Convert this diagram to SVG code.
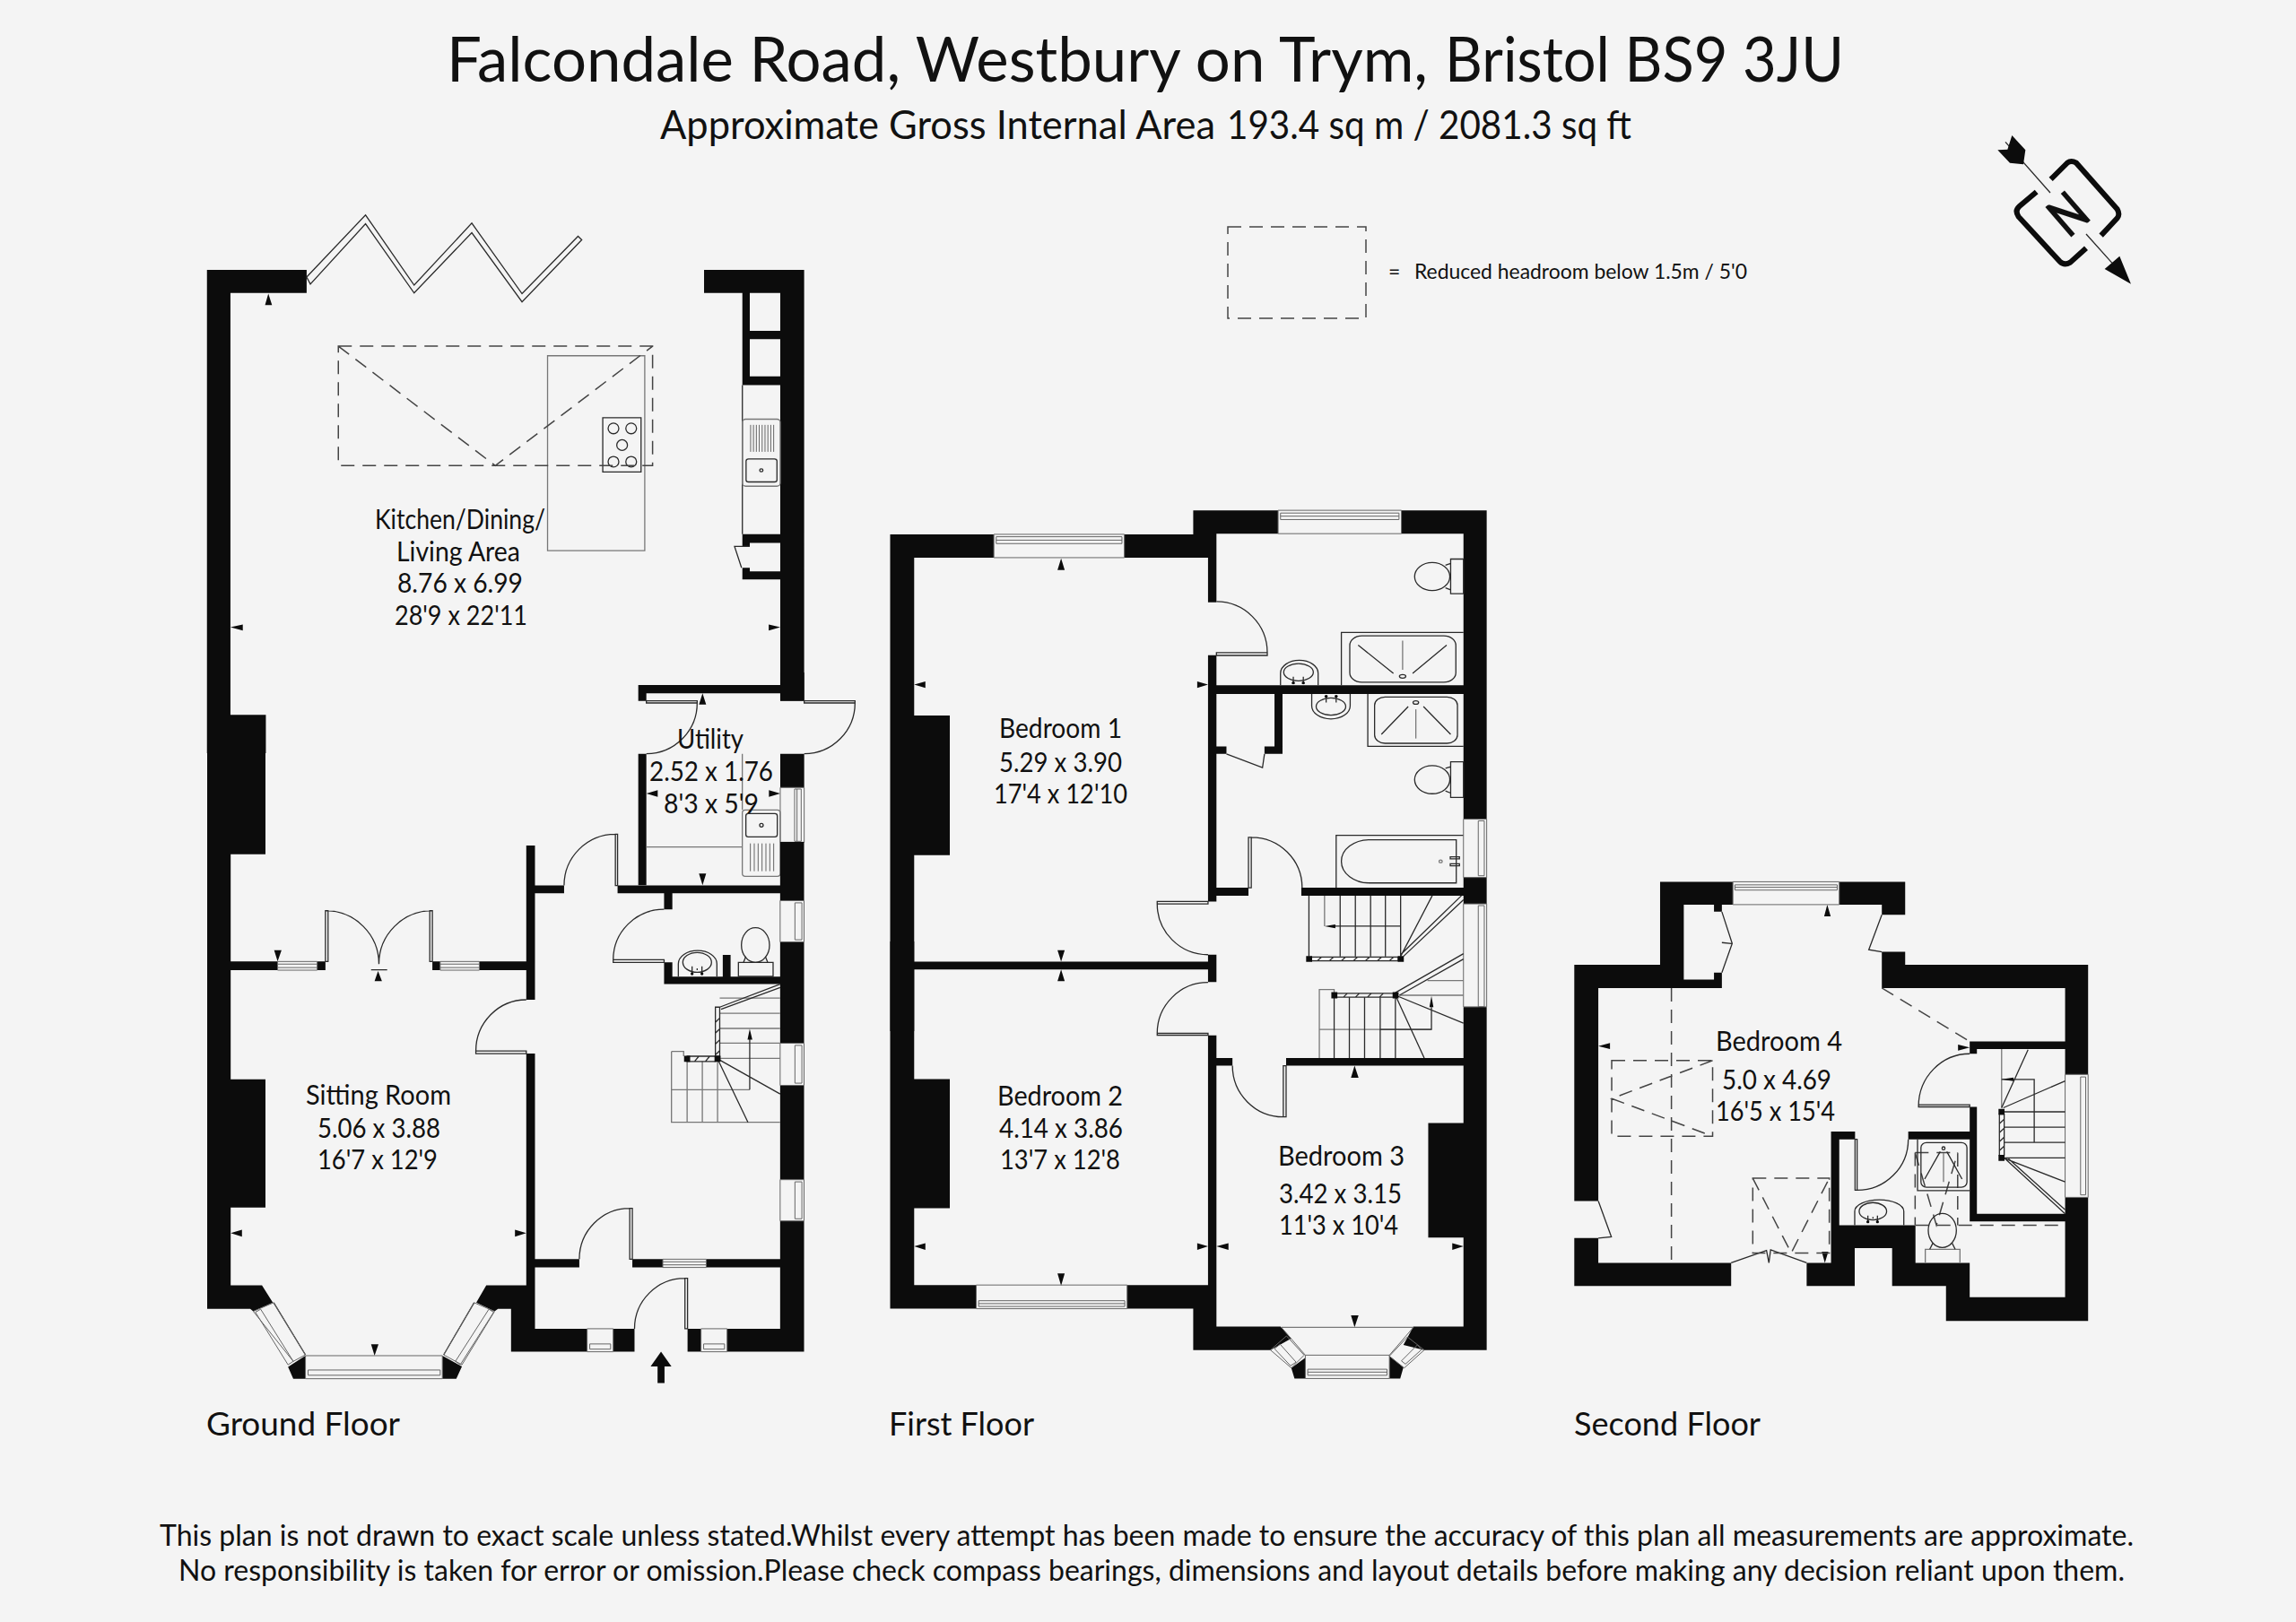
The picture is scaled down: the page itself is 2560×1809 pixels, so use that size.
<svg xmlns="http://www.w3.org/2000/svg" width="2560" height="1809" viewBox="0 0 2560 1809">
<style>
.w{fill:#0c0c0c}
.l{fill:none;stroke:#2a2a2a;stroke-width:1.3;vector-effect:non-scaling-stroke}
.g{fill:none;stroke:#777;stroke-width:1.3;vector-effect:non-scaling-stroke}
.n{fill:none;stroke:#666;stroke-width:1;vector-effect:non-scaling-stroke}
.d{fill:none;stroke:#444;stroke-width:1.5;stroke-dasharray:15 9;vector-effect:non-scaling-stroke}
text{font-family:Lato,"Liberation Sans",sans-serif;fill:#111;font-size:30px}
.t1{font-size:70px}.t2{font-size:45px}.t3{font-size:33px}.t4{font-size:37px}.t5{font-size:23px}
</style>
<rect width="2560" height="1809" fill="#f4f4f4"/>

<g id="ground-floor">
<g id="ground-rear" transform="translate(200 220) scale(.4592 .3954)">
<path class="w" d="M67 205H309V270H124V1460H210V1568H67ZM1274 205H1517V1420H1459V270H1274ZM1367 270H1385V505H1459V530H1367ZM1385 377H1459V400H1385ZM1367 950H1459V975H1385V985H1367ZM1367 1045H1385V1055H1459V1078H1367Z"/>
<path class="l" d="M309 225L452 50L570 248L710 73L832 272L968 110L977 120L832 295L710 100L570 270L452 75L318 245Z"/>
<path class="l" d="M1367 530V950M1385 985H1348L1365 1045"/>
<rect class="g" x="1367" y="626" width="92" height="189" rx="8"/>
<rect class="l" x="1376" y="738" width="75" height="65" rx="6"/>
<ellipse class="l" cx="1413" cy="770" rx="4" ry="4"/>
<path class="n" d="M1387 642V718M1394 642V718M1401 642V718M1408 642V718M1415 642V718M1422 642V718M1429 642V718M1436 642V718M1443 642V718"/>
<rect class="g" x="894" y="447" width="236" height="550"/>
<rect class="l" x="1028" y="622" width="93" height="153"/>
<ellipse class="l" cx="1054" cy="652" rx="13" ry="15"/><ellipse class="l" cx="1097" cy="652" rx="13" ry="15"/><ellipse class="l" cx="1075" cy="699" rx="13" ry="15"/><ellipse class="l" cx="1054" cy="746" rx="13" ry="15"/><ellipse class="l" cx="1097" cy="746" rx="13" ry="15"/>
<path class="d" d="M386 420H1149V757H386ZM386 420L767 757L1149 420"/>
<path class="w" d="M216 272L208 304H225ZM124 1213L154 1205V1222ZM1459 1213L1431 1205V1222Z"/>
</g>
<g id="utility" transform="translate(700 750) scale(.3333)">
<path class="w" d="M35 42H510V0H590V95H510V70H62V95H35ZM35 272H62V712H35ZM510 272H590V385H510ZM250 70L238 107H262ZM62 405L100 394V416ZM510 405L472 394V416ZM250 712L238 673H262Z"/>
<path class="l" d="M62 95H232V102H62ZM232 102A170 170 0 0 1 62 272M590 95H760V102H590ZM760 102A170 170 0 0 1 590 272"/>
<path class="n" d="M510 385H590V568H510ZM558 390H580V565H558ZM566 390V565"/>
<path class="g" d="M383 272V460M62 584H383"/>
<rect class="g" x="383" y="460" width="127" height="222" rx="10"/>
<rect class="l" x="395" y="472" width="105" height="78" rx="8"/>
<circle class="l" cx="447" cy="511" r="6"/>
<path class="n" d="M410 572V665M423 572V665M436 572V665M449 572V665M462 572V665M475 572V665M488 572V665"/>
</g>
<g id="ground-front" transform="translate(200 830) scale(.4847)">
<path class="w" d="M64 0H198V253H118V771H198V1066H118V1245H190L215 1285L170 1305L163 1299H64ZM250 1433L290 1407V1460H262ZM605 1407L650 1432L637 1460H605ZM683 1285L706 1245H798V712H818V1345H938V1398H763V1299H733L725 1305ZM798 233H818V325H885V343H818V588H798ZM998 1345H1047V1398H998ZM1169 1345H1200V1398H1169ZM1260 1345H1382V1097H1437V1398H1260ZM1008 325H1382V225H1437V360H1382V343H1134V380H1115V343H1008ZM1382 455H1437V688H1382V552H1134H1115V502H1134V535H1382ZM1382 785H1437V1002H1382ZM1250 485H1268V535H1250ZM118 500H226V520H118ZM317 500H336V520H317ZM582 500H600V520H582ZM690 500H798V520H690ZM818 1185H920V1204H818ZM1042 1185H1112V1204H1042ZM1212 1185H1382V1204H1212Z"/>
<path class="w" d="M226 500L218 474H235ZM118 1125L144 1117V1133ZM798 1125L772 1117V1133ZM449 1407L441 1381H458ZM457 522L449 545H466ZM1108 1398L1132 1432H1116V1470H1100V1432H1084Z"/>
<path class="l" d="M336 383H342V500H336ZM336 383A123 123 0 0 1 459 506M576 383H582V500H576ZM582 383A123 123 0 0 0 459 506M441 519H478"/>
<path class="l" d="M682 706H798V712H682ZM682 706A116 118 0 0 1 798 588M1003 207H1008V325H1003ZM1003 207A118 118 0 0 0 885 325M998 496H1115V502H998ZM998 496A117 116 0 0 1 1115 380M1036 1068H1042V1185H1036ZM1036 1068A116 117 0 0 0 920 1185M1163 1229H1169V1345H1163ZM1163 1229A116 116 0 0 0 1047 1345"/>
<path class="n" d="M1382 360H1437V455H1382ZM1416 365H1432V450H1416ZM1382 688H1437V785H1382ZM1416 693H1432V780H1416ZM1382 1002H1437V1097H1382ZM1416 1007H1432V1092H1416Z"/>
<path class="n" d="M938 1345H998V1398H938ZM944 1380H992V1392H944ZM1200 1345H1260V1398H1200ZM1206 1380H1254V1392H1206ZM290 1407H605V1460H290ZM296 1440H600V1452H296ZM1112 1185H1212V1204H1112ZM1112 1191H1212M1112 1198H1212M226 500H317V520H226ZM226 506H317M226 514H317M600 500H690V520H600ZM600 506H690M600 514H690"/>
<path class="l" d="M217 1285L290 1405M678 1285L608 1405"/>
<path class="n" d="M170 1305L217 1285L290 1405L262 1420ZM175 1307L187 1300L262 1420L250 1428ZM608 1405L678 1285L725 1305L650 1428ZM635 1420L712 1300L723 1307L646 1428Z"/>
<path class="g" d="M1243 584H1382M1243 619H1382M1243 654H1382M1243 688H1382M1243 723H1382M1132 707V870H1382M1160 718V707H1132M1168 730V870M1203 730V870M1238 730V870M1132 795H1312"/>
<path class="l" d="M1238 724L1382 805M1238 724L1308 870M1312 795V670M1243 605L1382 552M1246 610L1382 560M1233 605H1243V718H1233ZM1168 718H1233V730H1168ZM1233 640L1243 630M1233 665L1243 655M1233 690L1243 680M1233 715L1243 705M1185 730L1195 718M1210 730L1220 718"/>
<path class="w" d="M1161 717H1175V731H1161ZM1231 717H1245V731H1231ZM1312 655L1307 680H1318Z"/>
</g>
<g id="cloakroom" transform="translate(720 1010) scale(.3333)">
<ellipse class="l" cx="367" cy="132" rx="47" ry="58"/>
<path class="l" d="M310 190H426V237H310ZM335 170L327 190M400 170L408 190"/>
<path class="l" d="M109 237V195A64 44 0 0 1 238 195V237"/>
<ellipse class="l" cx="172" cy="190" rx="48" ry="33"/>
<path class="l" d="M155 203V228M188 203V228M172 210V216"/>
<circle class="w" cx="155" cy="228" r="5"/><circle class="w" cx="188" cy="228" r="5"/>
</g>
</g>

<g id="first-floor">
<g id="first-upper" transform="translate(980 550) scale(.4464 .3827)">
<path class="w" d="M28 120H287V188H88V648H177V1055H88V1365H822V1345H843V1425H822V1388H88V1568H28ZM613 120H785V50H997V118H843V318H822V188H613ZM1305 50H1518V950H1460V118H1305ZM822 472H843V560H1460V585H1008V760H963V738H988V585H843V738H868V760H843V1150H923V1173H843V1190H822ZM1055 1150H1460V1120H1518V1197H1460V1173H1055Z"/>
<path class="w" d="M455 190L446 224H464ZM88 558L116 549V568ZM822 558L795 549V568ZM455 1365L446 1332H464ZM455 1388L446 1422H464Z"/>
<path class="n" d="M287 120H613V188H287ZM293 127H607V147H293ZM293 137H607M997 50H1305V118H997ZM1003 58H1299V77H1003ZM1003 67H1299"/>
<path class="l" d="M868 760L958 800L963 760"/>
<path class="l" d="M843 465H970V473H843ZM843 316A127 149 0 0 1 970 465M923 1003H930V1150H923ZM930 1003A127 147 0 0 1 1057 1150M695 1190H822V1197H695ZM695 1197A127 148 0 0 0 822 1345"/>
<ellipse class="l" cx="1382" cy="243" rx="44" ry="41"/><path class="l" d="M1428 192H1460V293H1428ZM1415 210L1428 205M1415 276L1428 282"/>
<ellipse class="l" cx="1382" cy="835" rx="44" ry="41"/><path class="l" d="M1428 783H1460V887H1428ZM1415 802L1428 797M1415 868L1428 874"/>
<path class="l" d="M1155 560V406H1460"/><rect class="l" x="1176" y="416" width="265" height="135" rx="30" ry="28"/>
<path class="l" d="M1197 443L1285 525M1418 443L1333 525"/><path class="g" d="M1308 430V515"/><ellipse class="l" cx="1308" cy="534" rx="8" ry="5"/>
<path class="l" d="M1221 585V738H1460"/><rect class="l" x="1238" y="594" width="207" height="135" rx="26" ry="24"/>
<path class="l" d="M1322 622L1255 703M1360 622L1428 703"/><path class="g" d="M1341 630V715"/><ellipse class="l" cx="1341" cy="610" rx="7" ry="5"/>
<path class="l" d="M1003 560V525A47 38 0 0 1 1097 525V560"/><ellipse class="l" cx="1048" cy="522" rx="37" ry="25"/>
<path class="l" d="M1035 535V555M1060 535V555"/><circle class="w" cx="1035" cy="553" r="4"/><circle class="w" cx="1060" cy="553" r="4"/>
<path class="l" d="M1081 585V620A48 38 0 0 0 1177 620V585"/><ellipse class="l" cx="1129" cy="622" rx="37" ry="25"/>
<path class="l" d="M1117 590V610M1142 590V610"/><circle class="w" cx="1117" cy="592" r="4"/><circle class="w" cx="1142" cy="592" r="4"/>
<path class="l" d="M1142 1150V997H1460M1442 1010H1225A70 63 0 0 0 1225 1136H1442Z"/><circle class="g" cx="1403" cy="1073" r="4"/>
<path class="l" d="M1427 1060H1450V1066H1427ZM1427 1080H1450V1086H1427Z"/>
<path class="n" d="M1460 950H1518V1120H1460ZM1497 955H1512V1115H1497ZM1460 1197H1518V1497H1460ZM1497 1202H1512V1497H1497Z"/>
<path class="l" d="M1074 1173V1350M1152 1173V1350M1190 1173V1350M1228 1173V1350M1265 1173V1350M1303 1173V1350M1130 1262H1303M1303 1350L1382 1173M1303 1345L1455 1173M1310 1350L1460 1185"/>
<path class="g" d="M1113 1173V1262"/>
<path class="l" d="M1080 1352H1297V1363H1080ZM1095 1363L1105 1352M1125 1363L1135 1352M1155 1363L1165 1352M1185 1363L1195 1352M1215 1363L1225 1352M1245 1363L1255 1352M1275 1363L1285 1352"/>
<path class="w" d="M1067 1349H1082V1366H1067ZM1296 1349H1311V1366H1296ZM1113 1262L1140 1257V1268Z"/>
</g>
<g id="first-lower" transform="translate(980 1050) scale(.4464 .3571)">
<path class="w" d="M28 0H88V430H177V833H88V1073H243V1147H28ZM620 1073H822V293H843V364H883V388H843V1203H1003L1030 1240L978 1276H785V1147H620ZM1017 364H1460V205H1518V1276H1362L1310 1260L1335 1203H1460V925H1372V567H1460V388H1017ZM1030 1332L1065 1300V1365H1038ZM1275 1295L1310 1330L1302 1365H1275Z"/>
<path class="w" d="M1188 388L1179 426H1198ZM843 952L873 942V963ZM822 952L795 942V963ZM88 952L116 942V963ZM1460 952L1432 942V963ZM455 1075L446 1037H464ZM1188 1205L1179 1168H1198Z"/>
<path class="n" d="M243 1073H620V1147H243ZM249 1122H614V1140H249ZM249 1131H614M1065 1292H1275V1365H1065ZM1071 1336H1269V1355H1071ZM1071 1345H1269"/>
<path class="g" d="M1005 1205H1335"/>
<path class="n" d="M1005 1205L1065 1292M1335 1205L1275 1292M978 1276L1018 1232L1062 1292L1030 1332ZM988 1272L1002 1258L1042 1314L1028 1325ZM1320 1235L1362 1276L1312 1332L1275 1295ZM1345 1260L1355 1275L1315 1320L1305 1310Z"/>
<path class="l" d="M695 287H822V293H695ZM695 287A127 159 0 0 1 822 128M1010 388H1017V548H1010ZM1010 548A127 160 0 0 1 883 388"/>
<path class="g" d="M1100 364V150H1137V162M1100 275H1380M1370 122H1460M1300 168H1460"/>
<path class="l" d="M1137 174V364M1175 174V364M1213 174V364M1252 174V364M1290 174V364M1252 275H1380V205M1290 168L1460 255M1290 168L1362 364M1290 160L1460 38M1300 168L1460 55"/>
<path class="l" d="M1143 162H1285V174H1143ZM1160 174L1170 162M1190 174L1200 162M1220 174L1230 162M1250 174L1260 162"/>
<path class="w" d="M1130 158H1145V178H1130ZM1283 158H1298V178H1283ZM1380 170L1375 205H1385Z"/>
</g>
</g>

<g id="second-floor" transform="translate(1740 960) scale(.3827 .3444)">
<path class="w" d="M290 68H502V142H470V165H447V142H359V385H447V362H470V412H110V1102H40V337H290ZM812 68H1004V175H936V142H812ZM936 295H1004V337H1537V692H1470V412H936ZM40 1222H110V1302H497V1377H40ZM717 1302H788V877H858V902H812V1180H1034V1302H1192V1413H1470V1090H1537V1490H1123V1377H966V1254H857V1377H717ZM1192 797H1213V1143H1470V1168H1192ZM1013 877H1192V902H1013ZM1192 585H1470V610H1213V625H1192Z"/>
<path class="w" d="M777 142L768 180H787ZM110 600L144 590V610ZM1192 605L1158 595V615ZM770 1302L761 1266H780Z"/>
<path class="n" d="M502 68H812V142H502ZM508 78H806V95H508ZM508 86H806M1470 692H1537V1090H1470ZM1515 700H1530V1082H1515Z"/>
<path class="l" d="M470 165L500 268L470 362M470 265L498 268M936 175L898 288L936 295M110 1102L148 1218L110 1222M497 1302L600 1262L607 1302L612 1260L717 1302"/>
<path class="l" d="M1043 790H1192V797H1043ZM1043 795A149 170 0 0 1 1192 625M858 902H864V1067H858ZM864 1067A149 165 0 0 0 1013 902"/>
<path class="d" d="M323 412V1302M149 647H443V892H149ZM443 647L149 770L443 892M560 1028H783V1270H560ZM560 1028L672 1270L783 1028M936 412L1192 585M1034 1180H1470M1033 945H1157V1180M1033 945V1180M1033 945L1095 1180L1157 945"/>
<path class="l" d="M857 1180V1135A71 37 0 0 1 1000 1135V1180"/><ellipse class="l" cx="910" cy="1135" rx="40" ry="28"/>
<path class="l" d="M1040 902V1068H1192"/><rect class="l" x="1050" y="913" width="134" height="144" rx="16"/>
<path class="g" d="M1285 610V800"/>
<path class="l" d="M1285 800L1362 612M1285 708H1380V912M1292 813H1470M1292 863H1470M1292 912H1470M1292 962H1470M1290 800L1470 713M1290 962L1470 1040M1295 965L1470 1143M1305 965L1470 1130"/>
</g>
<g id="second-fittings" transform="translate(2040 1200) scale(.3333)">
<circle class="l" cx="381" cy="242" r="5"/>
<path class="l" d="M370 253L318 345M392 253L443 345"/><path class="g" d="M381 258V355"/>
<ellipse class="l" cx="377" cy="517" rx="47" ry="57"/><path class="g" d="M320 625V580H436V625"/><path class="l" d="M345 560L335 580M410 560L420 580"/>
<path class="l" d="M128 467V490M160 467V490M145 472V478"/><circle class="w" cx="128" cy="488" r="5"/><circle class="w" cx="160" cy="488" r="5"/>
<path class="l" d="M568 128H584V266H568ZM568 160L584 145M568 190L584 175M568 220L584 205M568 250L584 235"/>
<path class="w" d="M565 110H585V130H565ZM565 264H585V284H565ZM575 11L615 5V17Z"/>
</g>

<g id="compass" transform="translate(2210 140) scale(.3333)">
<path fill="none" stroke="#0c0c0c" stroke-width="18" d="M230 180L285 125Q298 115 315 125L452 280Q462 298 452 310L398 368M182 222L125 270Q108 285 122 305L260 455Q275 470 295 458L348 410"/>
<path class="l" d="M78 55L228 225M348 363L435 460"/>
<path class="w" d="M52 82L85 80L100 33L145 82L138 130L93 125ZM410 480L460 437L498 530Z"/>
</g>
<text transform="translate(2305.5 238.5) rotate(139)" x="-18" y="22" style="font-size:61px;font-weight:700" textLength="36" lengthAdjust="spacingAndGlyphs">N</text>

<g id="legend">
<rect class="d" x="1369" y="253" width="154" height="102"/>
<text class="t5" x="1548" y="311">=</text>
<text class="t5" x="1577" y="311" textLength="371" lengthAdjust="spacingAndGlyphs">Reduced headroom below 1.5m / 5'0</text>
</g>

<g id="labels">
<text class="t1" x="498" y="91" textLength="1094" lengthAdjust="spacingAndGlyphs">Falcondale Road, Westbury on Trym,</text>
<text class="t1" x="1611" y="91" textLength="445" lengthAdjust="spacingAndGlyphs">Bristol BS9 3JU</text>
<text class="t2" x="736" y="155" textLength="619" lengthAdjust="spacingAndGlyphs">Approximate Gross Internal Area</text>
<text class="t2" x="1368" y="155" textLength="451" lengthAdjust="spacingAndGlyphs">193.4 sq m / 2081.3 sq ft</text>

<text x="418" y="590" textLength="190" lengthAdjust="spacingAndGlyphs">Kitchen/Dining/</text>
<text x="442" y="626" textLength="138" lengthAdjust="spacingAndGlyphs">Living Area</text>
<text x="443" y="661" textLength="140" lengthAdjust="spacingAndGlyphs">8.76 x 6.99</text>
<text x="440" y="697" textLength="148" lengthAdjust="spacingAndGlyphs">28'9 x 22'11</text>

<text x="755" y="835" textLength="74" lengthAdjust="spacingAndGlyphs">Utility</text>
<text x="724" y="871" textLength="138" lengthAdjust="spacingAndGlyphs">2.52 x 1.76</text>
<text x="740" y="907" textLength="106" lengthAdjust="spacingAndGlyphs">8'3 x 5'9</text>

<text x="341" y="1232" textLength="162" lengthAdjust="spacingAndGlyphs">Sitting Room</text>
<text x="354" y="1269" textLength="137" lengthAdjust="spacingAndGlyphs">5.06 x 3.88</text>
<text x="354" y="1304" textLength="134" lengthAdjust="spacingAndGlyphs">16'7 x 12'9</text>

<text x="1114" y="823" textLength="137" lengthAdjust="spacingAndGlyphs">Bedroom 1</text>
<text x="1114" y="861" textLength="137" lengthAdjust="spacingAndGlyphs">5.29 x 3.90</text>
<text x="1108" y="896" textLength="149" lengthAdjust="spacingAndGlyphs">17'4 x 12'10</text>

<text x="1112" y="1233" textLength="140" lengthAdjust="spacingAndGlyphs">Bedroom 2</text>
<text x="1114" y="1269" textLength="138" lengthAdjust="spacingAndGlyphs">4.14 x 3.86</text>
<text x="1115" y="1304" textLength="134" lengthAdjust="spacingAndGlyphs">13'7 x 12'8</text>

<text x="1425" y="1300" textLength="141" lengthAdjust="spacingAndGlyphs">Bedroom 3</text>
<text x="1426" y="1342" textLength="137" lengthAdjust="spacingAndGlyphs">3.42 x 3.15</text>
<text x="1426" y="1377" textLength="133" lengthAdjust="spacingAndGlyphs">11'3 x 10'4</text>

<text x="1913" y="1172" textLength="141" lengthAdjust="spacingAndGlyphs">Bedroom 4</text>
<text x="1920" y="1215" textLength="122" lengthAdjust="spacingAndGlyphs">5.0 x 4.69</text>
<text x="1913" y="1250" textLength="133" lengthAdjust="spacingAndGlyphs">16'5 x 15'4</text>

<text class="t4" x="230" y="1601" textLength="216" lengthAdjust="spacingAndGlyphs">Ground Floor</text>
<text class="t4" x="991" y="1601" textLength="162" lengthAdjust="spacingAndGlyphs">First Floor</text>
<text class="t4" x="1755" y="1601" textLength="208" lengthAdjust="spacingAndGlyphs">Second Floor</text>

<text class="t3" x="178" y="1724" textLength="2201" lengthAdjust="spacingAndGlyphs">This plan is not drawn to exact scale unless stated.Whilst every attempt has been made to ensure the accuracy of this plan all measurements are approximate.</text>
<text class="t3" x="199" y="1763" textLength="2170" lengthAdjust="spacingAndGlyphs">No responsibility is taken for error or omission.Please check compass bearings, dimensions and layout details before making any decision reliant upon them.</text>
</g>
</svg>
